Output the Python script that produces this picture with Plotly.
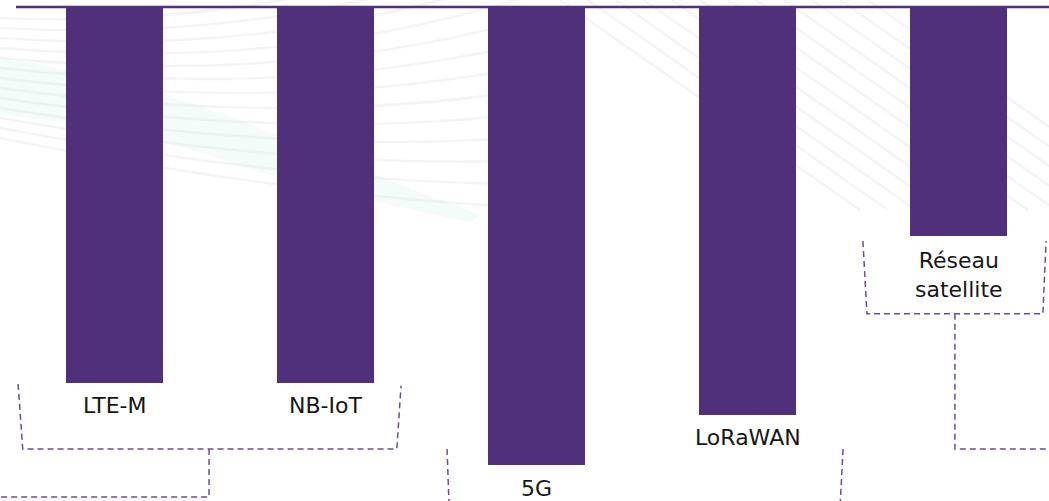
import plotly.graph_objects as go

# ---- data ----
categories = ["LTE-M", "NB-IoT", "5G", "LoRaWAN", "Réseau<br>satellite"]
values = [82, 82, 100, 89, 50]

BAR = "#50307a"
DASH_COL = "#6b4d96"
TXT = "#161616"

W, H = 1049, 501
xs = list(range(len(categories)))

fig = go.Figure()
fig.add_trace(go.Bar(x=xs, y=values, width=0.46, marker=dict(color=BAR, line=dict(width=0)),
                     hoverinfo="skip", showlegend=False))

# label annotations under each bar
for i, (c, v) in enumerate(zip(categories, values)):
    nl = c.count("<br>") + 1
    fig.add_annotation(x=i, y=v, text=c, showarrow=False, xanchor="center", yanchor="middle",
                       yshift=-(23 if nl == 1 else 39), borderpad=0,
                       font=dict(family="DejaVu Sans", size=22, color=TXT))

# x axis: index units; y axis reversed (bars hang from the top line)
x0, x1 = -0.5427, 4.4289
y_top, y_bot = -1.528, 107.86

def poly(pts, **kw):
    d = "M" + " L".join(f"{a},{b}" for a, b in pts)
    fig.add_shape(type="path", path=d, xref="x", yref="y",
                  line=dict(color=DASH_COL, width=1.5, dash="6px,4px"), layer="below", **kw)

# ---- faint decorative background (paper coordinates) ----
def pp(px, py):
    return f"{px / W:.4f},{1 - py / H:.4f}"

def deco(d, color, width=3, fill=None):
    fig.add_shape(type="path", path=d, xref="paper", yref="paper", layer="below",
                  line=dict(color=color, width=width),
                  fillcolor=fill if fill else "rgba(0,0,0,0)")

# teal wave band
deco("M" + pp(0, 58) + " Q" + pp(150, 80) + " " + pp(300, 145) + " Q" + pp(400, 185) + " " + pp(480, 215)
     + " L" + pp(470, 222) + " Q" + pp(360, 200) + " " + pp(260, 172) + " Q" + pp(130, 125) + " " + pp(0, 115) + " Z",
     "rgba(0,0,0,0)", width=0, fill="rgba(205,240,234,0.22)")
# fan of gray curves, left part
for k in range(13):
    deco("M" + pp(0, 18 + 10 * k) + " Q" + pp(300, 30 + 14 * k) + " " + pp(540, -80 + 24 * k),
         "rgba(220,220,220,0.3)", width=2.5)
# diagonal stripes, right part
for k in range(12):
    sx = 560 + 28 * k
    deco("M" + pp(sx, 0) + " L" + pp(min(sx + 300, 1049), min(300, 1049 - sx) * 0.7),
         "rgba(222,215,222,0.3)", width=2.5)

# top baseline
fig.add_shape(type="line", xref="x", yref="y", x0=-0.467, x1=x1, y0=0, y1=0,
              line=dict(color=BAR, width=2.5), layer="above")

# bracket LTE-M / NB-IoT
poly([(-0.457, 82.3), (-0.435, 96.5), (1.338, 96.5), (1.358, 82.7)])
poly([(0.448, 96.5), (0.448, 107.0), (x0, 107.0)])
# bracket 5G / LoRaWAN (open at the bottom)
poly([(1.576, 96.5), (1.585, y_bot)])
poly([(3.453, 96.5), (3.440, y_bot)])
# bracket satellite
poly([(3.547, 51.1), (3.566, 67.0), (4.400, 67.0), (4.415, 51.1)])
poly([(3.983, 67.0), (3.983, 96.5), (x1, 96.5)])

fig.update_layout(
    width=W, height=H,
    margin=dict(l=0, r=0, t=0, b=0),
    paper_bgcolor="white", plot_bgcolor="rgba(0,0,0,0)",
    xaxis=dict(range=[x0, x1], visible=False, fixedrange=True),
    yaxis=dict(range=[y_bot, y_top], visible=False, fixedrange=True),
    bargap=0, showlegend=False,
)
fig.write_html("out.html")
